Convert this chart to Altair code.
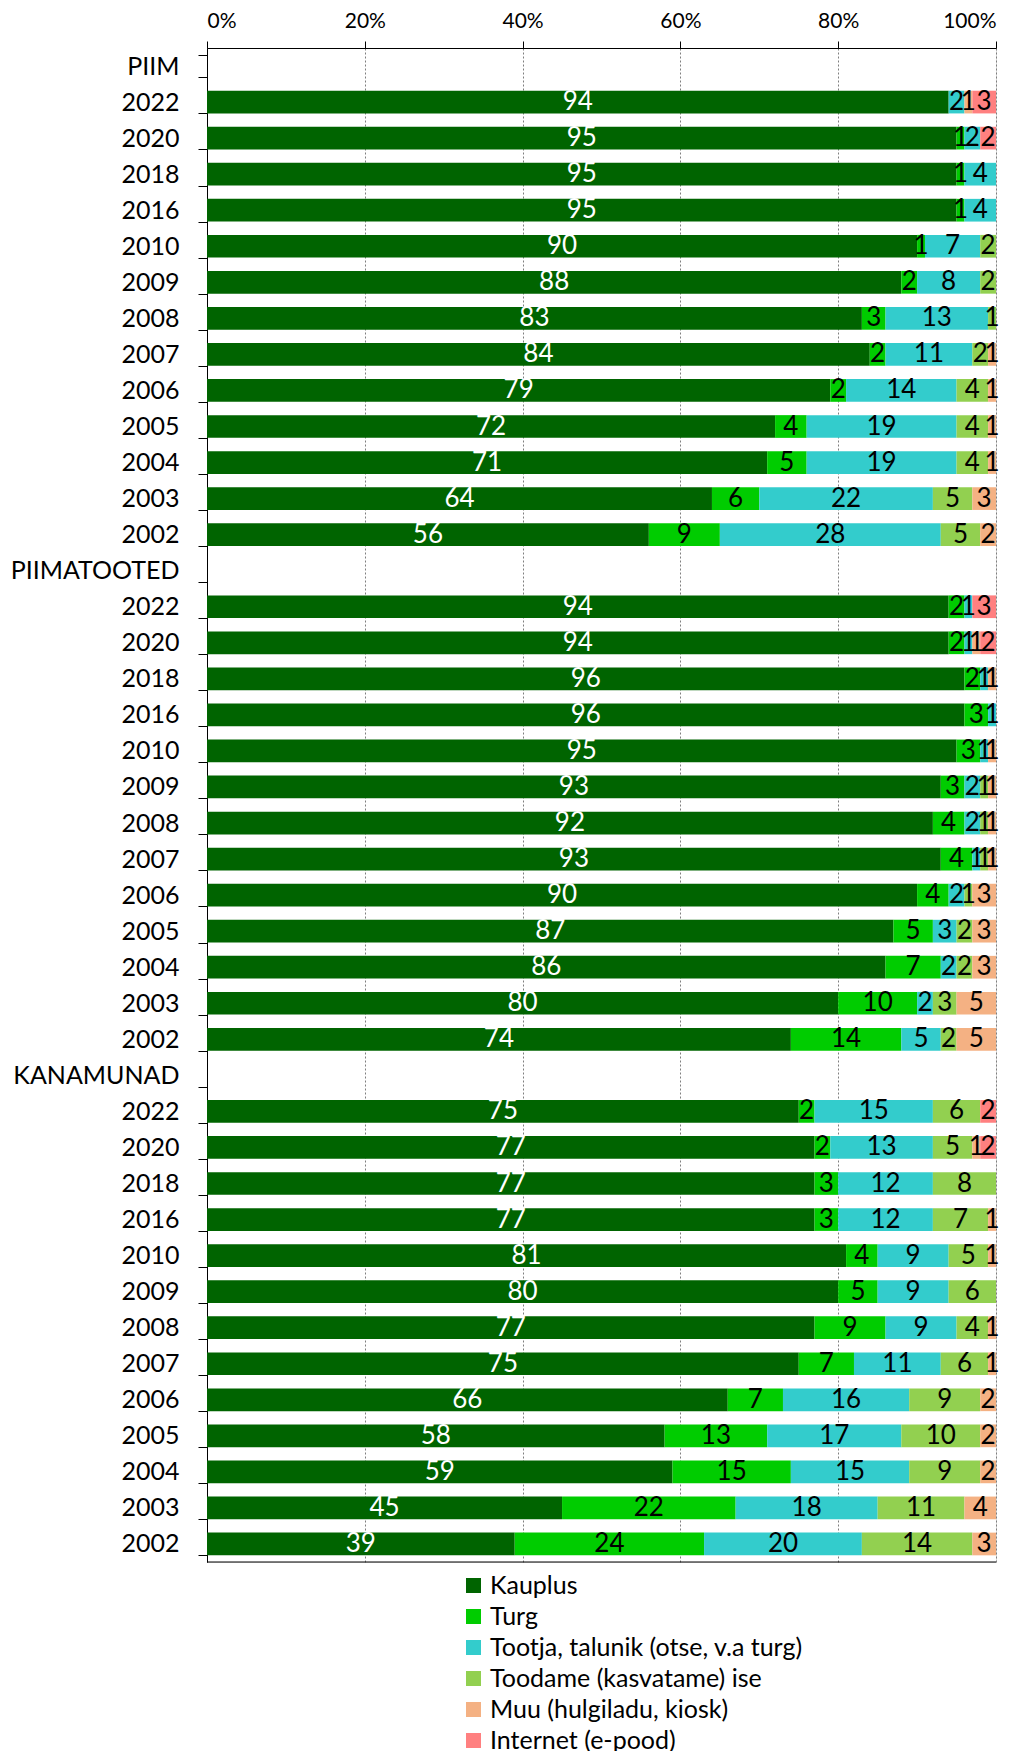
import altair as alt
import pandas as pd

groups = ["PIIM", "PIIMATOOTED", "KANAMUNAD"]
years = ["2022", "2020", "2018", "2016", "2010", "2009", "2008", "2007", "2006", "2005", "2004", "2003", "2002"]
categories = ["Kauplus", "Turg", "Tootja, talunik (otse, v.a turg)", "Toodame (kasvatame) ise",
              "Muu (hulgiladu, kiosk)", "Internet (e-pood)"]
colors = ["#006400", "#00CC00", "#33CCCC", "#92D050", "#F4B183", "#FF8080"]

# PIIM
piim_kauplus = [94, 95, 95, 95, 90, 88, 83, 84, 79, 72, 71, 64, 56]
piim_turg = [0, 1, 1, 1, 1, 2, 3, 2, 2, 4, 5, 6, 9]
piim_tootja = [2, 2, 4, 4, 7, 8, 13, 11, 14, 19, 19, 22, 28]
piim_toodame = [0, 0, 0, 0, 2, 2, 1, 2, 4, 4, 4, 5, 5]
piim_muu = [1, 0, 0, 0, 0, 0, 0, 1, 1, 1, 1, 3, 2]
piim_internet = [3, 2, 0, 0, 0, 0, 0, 0, 0, 0, 0, 0, 0]

# PIIMATOOTED
pt_kauplus = [94, 94, 96, 96, 95, 93, 92, 93, 90, 87, 86, 80, 74]
pt_turg = [2, 2, 2, 3, 3, 3, 4, 4, 4, 5, 7, 10, 14]
pt_tootja = [1, 1, 1, 1, 1, 2, 2, 1, 2, 3, 2, 2, 5]
pt_toodame = [0, 0, 0, 0, 0, 1, 1, 1, 1, 2, 2, 3, 2]
pt_muu = [0, 1, 1, 0, 1, 1, 1, 1, 3, 3, 3, 5, 5]
pt_internet = [3, 2, 0, 0, 0, 0, 0, 0, 0, 0, 0, 0, 0]

# KANAMUNAD
km_kauplus = [75, 77, 77, 77, 81, 80, 77, 75, 66, 58, 59, 45, 39]
km_turg = [2, 2, 3, 3, 4, 5, 9, 7, 7, 13, 15, 22, 24]
km_tootja = [15, 13, 12, 12, 9, 9, 9, 11, 16, 17, 15, 18, 20]
km_toodame = [6, 5, 8, 7, 5, 6, 4, 6, 9, 10, 9, 11, 14]
km_muu = [0, 1, 0, 1, 1, 0, 1, 1, 2, 2, 2, 4, 3]
km_internet = [2, 2, 0, 0, 0, 0, 0, 0, 0, 0, 0, 0, 0]

series = {
    "PIIM": [piim_kauplus, piim_turg, piim_tootja, piim_toodame, piim_muu, piim_internet],
    "PIIMATOOTED": [pt_kauplus, pt_turg, pt_tootja, pt_toodame, pt_muu, pt_internet],
    "KANAMUNAD": [km_kauplus, km_turg, km_tootja, km_toodame, km_muu, km_internet],
}

rows = []
row_order = []
for g in groups:
    row_order.append(f"{g}|{g}")
    for i, y in enumerate(years):
        key = f"{g}|{y}"
        row_order.append(key)
        for ci, cat in enumerate(categories):
            rows.append({"row": key, "category": cat, "order": ci, "value": series[g][ci][i]})
df = pd.DataFrame(rows)

W, H = 789, 1514

base = alt.Chart(df).transform_stack(
    stack="value", groupby=["row"], as_=["x0", "x1"], offset="normalize",
    sort=[alt.SortField("order", order="ascending")]
).transform_calculate(xm="(datum.x0 + datum.x1) / 2")

yenc = alt.Y("row:N",
             scale=alt.Scale(domain=row_order, paddingInner=0.37, paddingOuter=0.185),
             axis=alt.Axis(title=None, labelExpr="split(datum.value, '|')[1]",
                           labelFontSize=25, labelColor="black", tickSize=9, tickColor="black",
                           tickBand="extent", labelPadding=19, domainColor="black",
                           grid=False, labelLimit=400))

bars = base.mark_bar().encode(
    x=alt.X("x0:Q", scale=alt.Scale(domain=[0, 1], nice=False),
            axis=alt.Axis(orient="top", title=None, format="%", values=[0, 0.2, 0.4, 0.6, 0.8, 1.0],
                          labelFontSize=21, labelColor="black", tickSize=7, tickColor="black",
                          domainColor="black", labelPadding=10, grid=True,
                          gridColor="#7f7f7f", gridDash=[2, 2])),
    x2="x1:Q",
    y=yenc,
    color=alt.Color("category:N", scale=alt.Scale(domain=categories, range=colors),
                    legend=alt.Legend(title=None, orient="none", legendX=254, legendY=1525,
                                      direction="vertical", symbolType="square", symbolSize=225,
                                      symbolStrokeWidth=0, labelFontSize=25, labelColor="black",
                                      labelOffset=4, rowPadding=5, labelLimit=500)),
)

text = base.transform_filter("datum.value > 0").mark_text(fontSize=26).encode(
    x=alt.X("xm:Q"),
    y=alt.Y("row:N"),
    text=alt.Text("value:Q"),
    color=alt.condition("datum.category == 'Kauplus'", alt.value("white"), alt.value("black")),
)

bottom = alt.Chart(pd.DataFrame({"a": [0]})).mark_rule(color="black").encode(
    x=alt.value(0), x2=alt.value(W), y=alt.value(H)
)

chart = alt.layer(bars, text, bottom).properties(
    width=W, height=H, padding={"top": 2, "left": 2, "right": 5, "bottom": 5}
).configure_view(stroke=None).configure(font="Lato")

chart.save("out.html", embed_options={"renderer": "svg", "actions": False})
